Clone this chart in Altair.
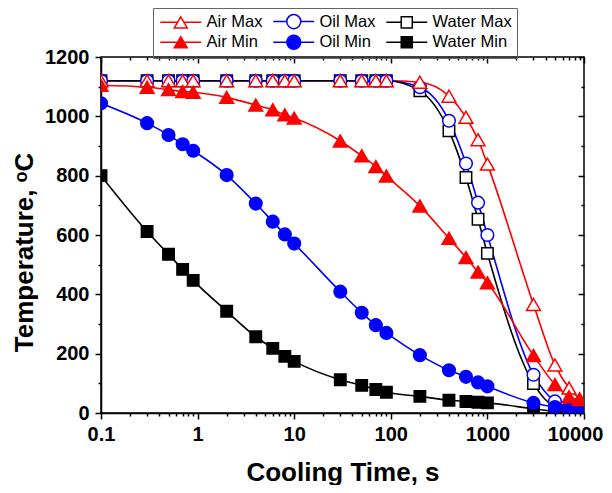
import altair as alt
import pandas as pd

# ---- data ----
times = [0.1, 0.3, 0.5, 0.7, 0.9, 2, 4, 6, 8, 10, 30, 50, 70, 90,
         200, 400, 600, 800, 1000, 3000, 5000, 7000, 9000]

air_max = [1120, 1120, 1120, 1120, 1120, 1120, 1120, 1120, 1120, 1120, 1120, 1120, 1120, 1120,
           1115, 1068, 997, 921, 839, 366, 162, 84, 48]
oil_max = [1120, 1120, 1120, 1120, 1120, 1120, 1120, 1120, 1120, 1120, 1120, 1120, 1120, 1120,
           1098, 985, 841, 709, 600, 129, 39, 20, 15]
water_max = [1120, 1120, 1120, 1120, 1120, 1120, 1120, 1120, 1120, 1120, 1120, 1120, 1120, 1120,
             1086, 951, 794, 653, 538, 99, 20, 8, 5]
air_min = [1105, 1098, 1090, 1084, 1081, 1064, 1038, 1022, 1005, 994, 917, 867, 831, 799,
           698, 589, 524, 475, 439, 194, 96, 55, 45]
oil_min = [1044, 977, 937, 906, 884, 802, 706, 645, 602, 571, 409, 338, 296, 270,
           195, 144, 122, 103, 90, 34, 20, 12, 8]
water_min = [800, 612, 535, 484, 447, 343, 257, 218, 191, 174, 112, 93, 79, 70,
             56, 43, 39, 36, 34, 14, 5, 3, 2]

series_names = ["Air Max", "Oil Max", "Water Max", "Air Min", "Oil Min", "Water Min"]
series_values = [air_max, oil_max, water_max, air_min, oil_min, water_min]
series_group = ["air", "oil", "water", "air", "oil", "water"]
stroke_colors = ["#FF0000", "#0000FF", "#000000", "#FF0000", "#0000FF", "#000000"]
fill_colors = ["#FFFFFF", "#FFFFFF", "#FFFFFF", "#FF0000", "#0000FF", "#000000"]

x_ticks = [0.1, 0.2, 0.3, 0.4, 0.5, 0.6, 0.7, 0.8, 0.9,
           1, 2, 3, 4, 5, 6, 7, 8, 9,
           10, 20, 30, 40, 50, 60, 70, 80, 90,
           100, 200, 300, 400, 500, 600, 700, 800, 900,
           1000, 2000, 3000, 4000, 5000, 6000, 7000, 8000, 9000, 10000]
y_ticks = [0, 100, 200, 300, 400, 500, 600, 700, 800, 900, 1000, 1100, 1200]

# legend symbols: line + marker (custom paths in symbol units)
tri_path = "M-1,0H1.88M2.96,0H5.83M2.42,-0.93L3.5,0.93L1.34,0.93Z"
circ_path = "M-1,0H1.25M3.59,0H5.83M1.25,0A1.17,1.17 0 1,0 3.59,0A1.17,1.17 0 1,0 1.25,0Z"
sq_path = "M-1,0H1.5M3.34,0H5.83M1.5,-0.92H3.34V0.92H1.5Z"
legend_shapes = [tri_path, circ_path, sq_path, tri_path, circ_path, sq_path]

rows = []
for name, vals, grp in zip(series_names, series_values, series_group):
    for t, v in zip(times, vals):
        rows.append({"time": t, "temp": v, "series": name, "group": grp})
df = pd.DataFrame(rows)

FONT = "Liberation Sans"

xscale = alt.Scale(type="log", domain=[0.1, 10000], nice=False)
yscale = alt.Scale(domain=[0, 1200], nice=False, zero=False)
stroke_scale = alt.Scale(domain=series_names, range=stroke_colors)
fill_scale = alt.Scale(domain=series_names, range=fill_colors)
shape_scale = alt.Scale(domain=series_names, range=legend_shapes)

x_major_test = "indexof([0.1,1,10,100,1000,10000], datum.value) >= 0"
y_major_test = "datum.value % 200 === 0"

x_axis_main = alt.Axis(
    values=x_ticks, title="Cooling Time, s", grid=False,
    labelExpr="datum.value === 0.1 ? '0.1' : (indexof([1,10,100,1000,10000], datum.value) >= 0 ? format(datum.value, 'd') : '')",
    labelOverlap=False, labelFlush=False, labelPadding=5, titlePadding=15,
    labelOffset={"condition": {"test": "datum.value === 10000", "value": -9}, "value": 0},
    tickSize={"condition": {"test": x_major_test, "value": 6}, "value": 3},
)
y_axis_main = alt.Axis(
    values=y_ticks, title="Temperature, ᵒC", grid=False,
    labelExpr="datum.value % 200 === 0 ? format(datum.value, 'd') : ''",
    labelOverlap=False, labelFlush=False, labelPadding=6, titlePadding=7,
    titleY=195,
    tickSize={"condition": {"test": y_major_test, "value": 6}, "value": 3},
)
x_axis_mirror = alt.Axis(
    orient="bottom", offset=-356, values=x_ticks, labels=False, domain=False,
    title=None, grid=False,
    tickSize={"condition": {"test": x_major_test, "value": 6}, "value": 3},
)
y_axis_mirror = alt.Axis(
    orient="left", offset=-483, values=y_ticks, labels=False, domain=False,
    title=None, grid=False,
    tickSize={"condition": {"test": y_major_test, "value": 6}, "value": 3},
)

legend_def = alt.Legend(
    orient="none", legendX=52, legendY=-49, direction="horizontal", columns=3,
    title=None, padding=5, rowPadding=0, columnPadding=7,
    strokeColor="#666666", symbolSize=144, symbolStrokeWidth=1.5,
    labelOffset=32, labelFontSize=16.5, labelFont=FONT, labelColor="black",
    labelFontWeight="normal",
)

base = alt.Chart(df)

lines = base.mark_line(interpolate="monotone", strokeWidth=1.6, clip=True).encode(
    x=alt.X("time:Q", scale=xscale, axis=x_axis_main),
    y=alt.Y("temp:Q", scale=yscale, axis=y_axis_main),
    stroke=alt.Stroke("series:N", scale=stroke_scale, legend=legend_def),
    detail="series:N",
)


def point_layer(group, shape, size):
    return base.transform_filter(alt.datum.group == group).mark_point(
        shape=shape, size=size, filled=True, opacity=1, strokeWidth=1.5, clip=True
    ).encode(
        x=alt.X("time:Q", scale=xscale, axis=None),
        y=alt.Y("temp:Q", scale=yscale, axis=None),
        stroke=alt.Stroke("series:N", scale=stroke_scale, legend=legend_def),
        fill=alt.Fill("series:N", scale=fill_scale, legend=legend_def),
    )


squares = point_layer("water", "square", 130)
circles = point_layer("oil", "circle", 160)
triangles = point_layer("air", "triangle-up", 190)

legend_layer = base.transform_filter("false").mark_point(
    filled=True, opacity=1, strokeWidth=1.5
).encode(
    x=alt.X("time:Q", scale=xscale, axis=x_axis_mirror),
    y=alt.Y("temp:Q", scale=yscale, axis=y_axis_mirror),
    stroke=alt.Stroke("series:N", scale=stroke_scale, legend=legend_def),
    fill=alt.Fill("series:N", scale=fill_scale, legend=legend_def),
    shape=alt.Shape("series:N", scale=shape_scale, legend=legend_def),
)

chart = alt.layer(lines, squares, circles, triangles, legend_layer).resolve_axis(
    x="independent", y="independent"
).properties(
    width=483, height=356,
    autosize=alt.AutoSizeParams(type="none"),
    padding={"left": 93, "top": 49, "right": 20, "bottom": 72},
    background="white",
).configure_view(
    stroke="black", strokeWidth=1.5
).configure_axis(
    labelFont=FONT, labelFontSize=20, labelFontWeight="bold", labelColor="black",
    titleFont=FONT, titleFontSize=26, titleFontWeight="bold", titleColor="black",
    tickColor="black", tickWidth=1.5, domainColor="black", domainWidth=1.5,
)

chart.save("out.html", embed_options={"renderer": "svg", "actions": False})
